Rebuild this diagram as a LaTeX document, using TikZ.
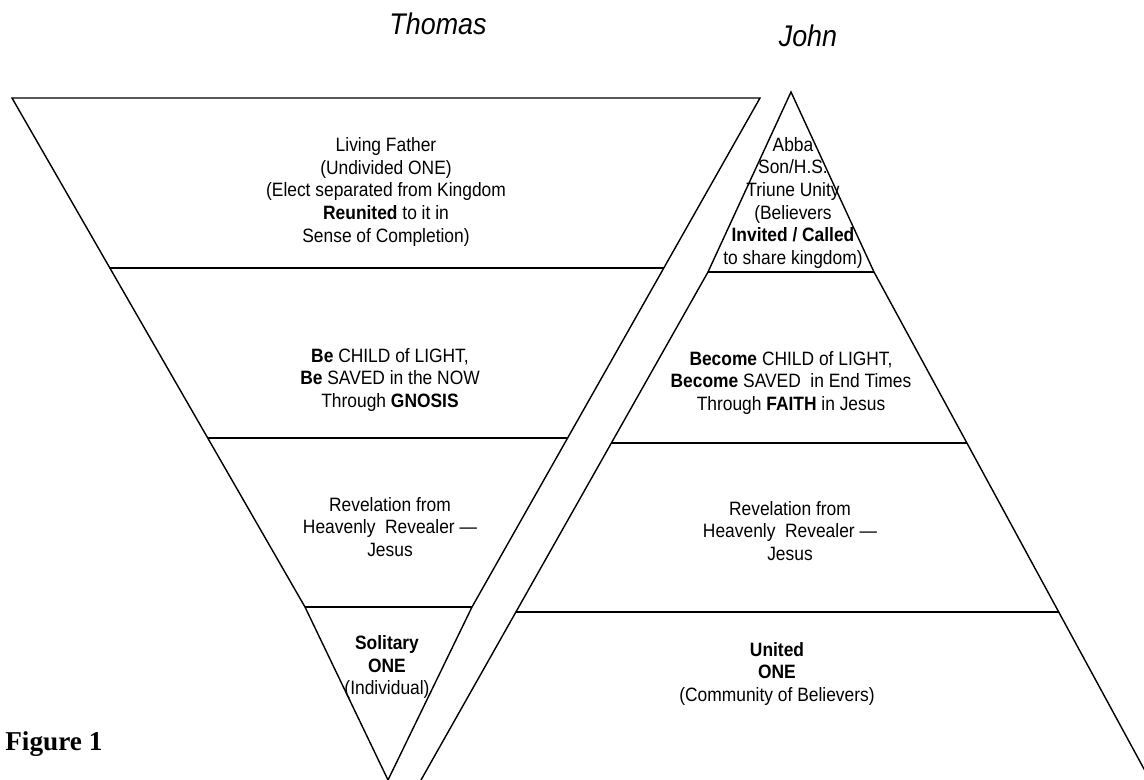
\documentclass[tikz,border=0pt]{standalone}
\usepackage{fontspec}
\setmainfont{Liberation Sans}[FakeStretch=0.9]
\newfontfamily\figfont{Liberation Serif}
\usetikzlibrary{calc}
\tikzset{
  edge/.style={line width=0.8pt},
  tierline/.style={line width=1.1pt},
  tiertext/.style={align=center,inner sep=0pt,font=\fontsize{11}{12.9}\selectfont},
  title/.style={inner sep=0pt,font=\fontsize{17}{20}\selectfont\itshape}
}
\begin{document}
\begin{tikzpicture}[x=0.02cm,y=-0.02cm]
  \useasboundingbox (0,0) rectangle (1144,780);
  \clip (0,0) rectangle (1144,780);
  % Thomas: inverted triangle
  \coordinate (tl) at (12,98);
  \coordinate (tr) at (760,98);
  \coordinate (bl) at (305,607);
  \coordinate (br) at (472,607);
  \coordinate (tip) at (388,780);
  \draw[edge] (bl) -- (tl) -- (tr) -- (br);
  \draw[edge] (bl) -- (tip) -- (br);
  \draw[tierline] ($(tl)!0.334!(bl)$) -- ($(tr)!0.334!(br)$);
  \draw[tierline] ($(tl)!0.668!(bl)$) -- ($(tr)!0.668!(br)$);
  \draw[tierline] (bl) -- (br);
  % John: triangle
  \coordinate (apex) at (791,92);
  \coordinate (jl) at (708,272);
  \coordinate (jr) at (874,272);
  \coordinate (jbl) at (421,780);
  \coordinate (jbr) at (1150,780);
  \draw[edge] (jl) -- (apex) -- (jr);
  \draw[edge] (jbl) -- (jl);
  \draw[edge] (jr) -- (jbr);
  \draw[tierline] (jl) -- (jr);
  \draw[tierline] ($(jl)!0.3366!(jbl)$) -- ($(jr)!0.3366!(jbr)$);
  \draw[tierline] ($(jl)!0.669!(jbl)$) -- ($(jr)!0.669!(jbr)$);
  % titles
  \node[title] (thomas) at (438,24) {Thomas};
  \node[title] (john) at (808,36) {John};
  % Thomas texts
  \node[tiertext] (t1) at (386,192) {Living Father\\(Undivided ONE)\\(Elect separated from Kingdom\\\textbf{Reunited} to it in\\Sense of Completion)};
  \node[tiertext] (t2) at (390,380) {\textbf{Be} CHILD of LIGHT,\\\textbf{Be} SAVED in the NOW\\Through \textbf{GNOSIS}};
  \node[tiertext] (t3) at (390,527) {Revelation from\\Heavenly~ Revealer ---\\Jesus};
  \node[tiertext] (t4) at (387,667) {\textbf{Solitary}\\\textbf{ONE}\\(Individual)};
  % John texts
  \node[tiertext] (j1) at (793,203) {Abba\\Son/H.S.\\Triune Unity\\(Believers\\\textbf{Invited / Called}\\to share kingdom)};
  \node[tiertext] (j2) at (791,383) {\textbf{Become} CHILD of LIGHT,\\\textbf{Become} SAVED~ in End Times\\Through \textbf{FAITH} in Jesus};
  \node[tiertext] (j3) at (790,531) {Revelation from\\Heavenly~ Revealer ---\\Jesus};
  \node[tiertext] (j4) at (777,674) {\textbf{United}\\\textbf{ONE}\\(Community of Believers)};
  % caption
  \node[inner sep=0pt,anchor=west,font=\figfont\bfseries\fontsize{15.5}{18}\selectfont] (fig) at (5,744) {Figure 1};
\end{tikzpicture}
\end{document}
